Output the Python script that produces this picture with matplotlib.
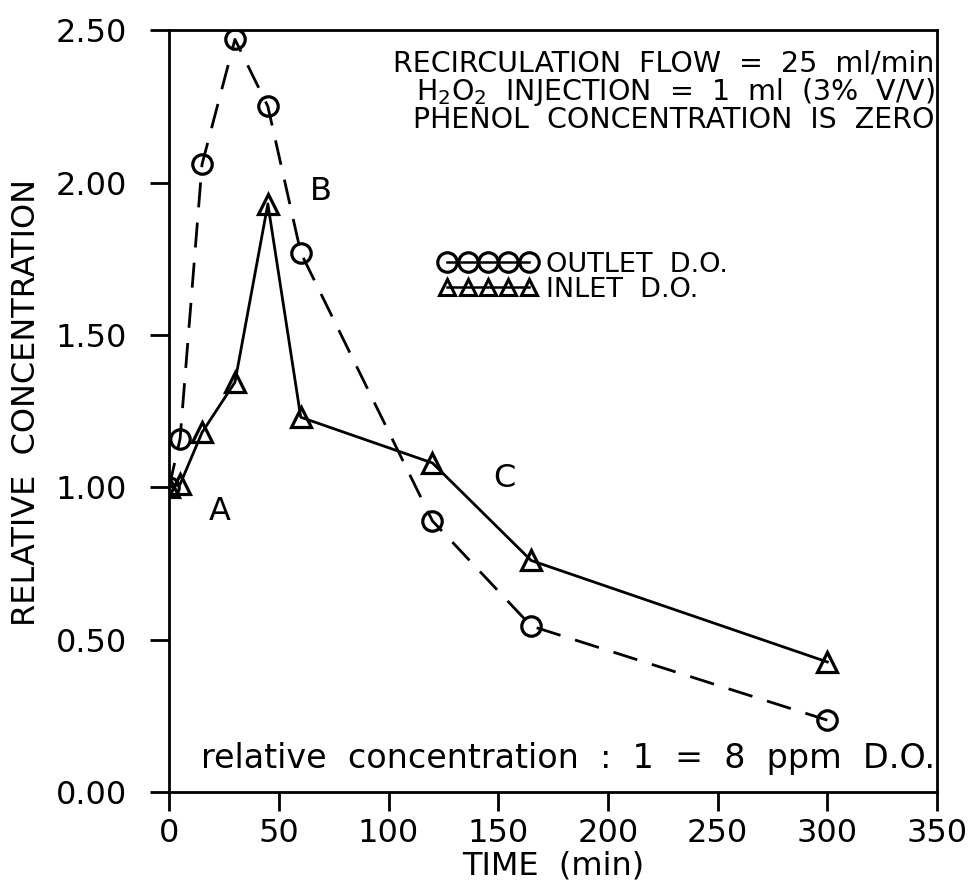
import matplotlib.pyplot as plt
from matplotlib.lines import Line2D

# time (min) and relative D.O. concentration
time_outlet = [0, 5, 15, 30, 45, 60, 120, 165, 300]
outlet_do = [1.00, 1.16, 2.06, 2.47, 2.25, 1.77, 0.89, 0.545, 0.236]
time_inlet = [0, 5, 15, 30, 45, 60, 120, 165, 300]
inlet_do = [1.00, 1.01, 1.18, 1.345, 1.93, 1.23, 1.08, 0.76, 0.427]

x_ticks = [0, 50, 100, 150, 200, 250, 300, 350]
y_ticks = [0.0, 0.5, 1.0, 1.5, 2.0, 2.5]

plt.rcParams['font.family'] = ['DejaVu Sans']

fig = plt.figure(figsize=(9.72, 8.88), dpi=100)
ax = fig.add_axes([0.174, 0.108, 0.790, 0.858])

ax.plot(time_outlet, outlet_do, color='black', linestyle=(0, (9, 5.5)), linewidth=2.0,
        marker='o', markersize=14, markerfacecolor='none', markeredgewidth=2.3)
ax.plot(time_inlet, inlet_do, color='black', linestyle='-', linewidth=2.0,
        marker='^', markersize=14, markerfacecolor='none', markeredgewidth=2.3)

ax.set_xlim(0, 350)
ax.set_ylim(0, 2.5)
ax.set_xticks(x_ticks)
ax.set_yticks(y_ticks)
ax.set_yticklabels([f'{v:.2f}' for v in y_ticks])
ax.tick_params(direction='out', length=13.5, width=2.0, labelsize=23)
ax.tick_params(axis='y', pad=17)
ax.tick_params(axis='x', pad=5)
for s in ax.spines.values():
    s.set_linewidth(2.0)

ax.set_xlabel('TIME  (min)', fontsize=23)
ax.xaxis.set_label_coords(0.5, -0.077)
ax.set_ylabel('RELATIVE  CONCENTRATION', fontsize=23)
ax.yaxis.set_label_coords(-0.165, 0.512)

ax.text(0.997, 0.975,
        'RECIRCULATION  FLOW  =  25  ml/min\n'
        r'H$_2$O$_2$  INJECTION  =  1  ml  (3%  V/V)' '\n'
        'PHENOL  CONCENTRATION  IS  ZERO',
        transform=ax.transAxes, ha='right', va='top', fontsize=20.5, linespacing=0.93)

ax.text(0.997, 0.022, 'relative  concentration  :  1  =  8  ppm  D.O.',
        transform=ax.transAxes, ha='right', va='bottom', fontsize=24)

ax.text(23, 0.92, 'A', fontsize=23, ha='center', va='center')
ax.text(69, 1.97, 'B', fontsize=23, ha='center', va='center')
ax.text(153, 1.03, 'C', fontsize=23, ha='center', va='center')

handles = [
    Line2D([], [], color='black', linewidth=1.8, marker='o', markersize=14,
           markerfacecolor='none', markeredgewidth=2.3),
    Line2D([], [], color='black', linewidth=1.8, marker='^', markersize=12,
           markerfacecolor='none', markeredgewidth=2.2),
]
ax.legend(handles, ['OUTLET  D.O.', 'INLET  D.O.'], numpoints=5, handlelength=3.6,
          handletextpad=0.35, labelspacing=-0.05, frameon=False, fontsize=19.5,
          loc='upper left', bbox_to_anchor=(0.32, 0.741))

fig.savefig('out.png', dpi=100)
